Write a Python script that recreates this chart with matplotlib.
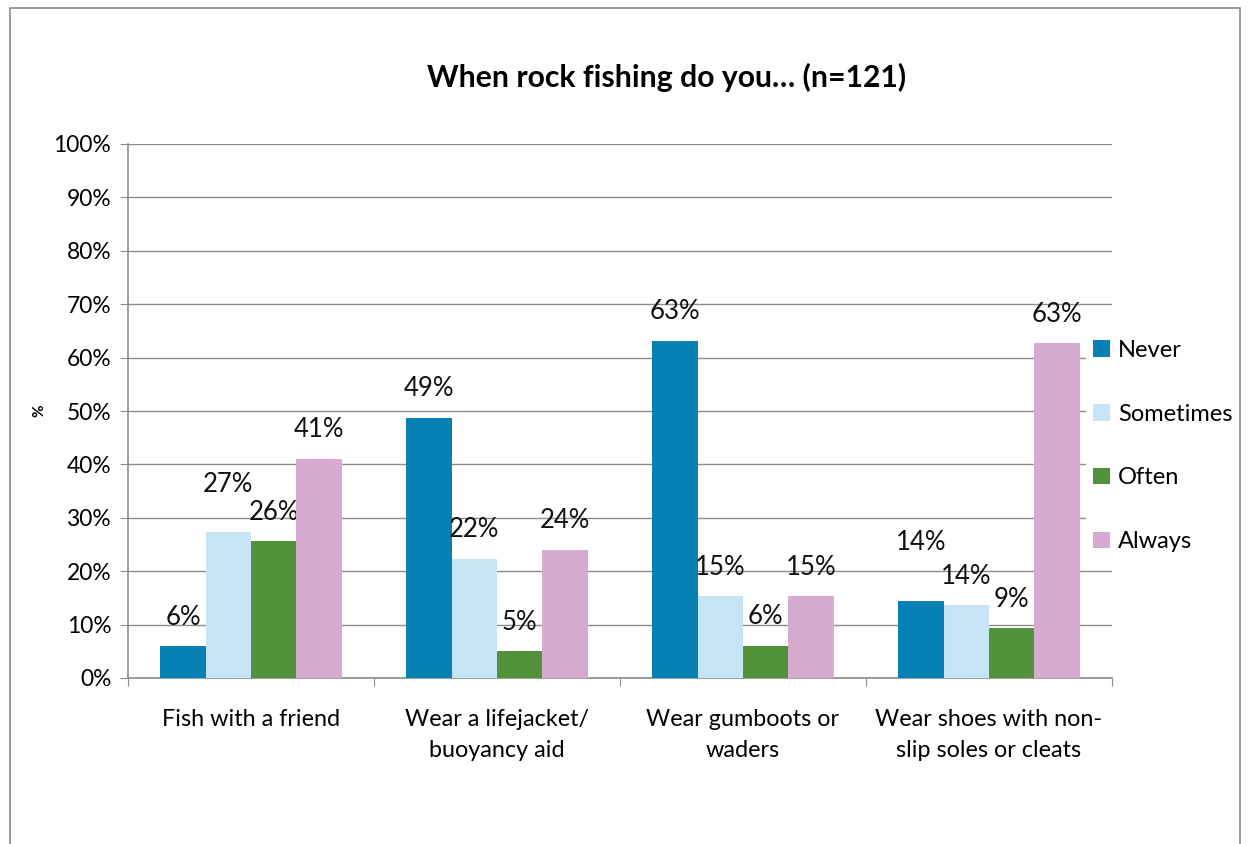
import matplotlib
matplotlib.use('Agg')
import matplotlib.pyplot as plt
import numpy as np
from matplotlib.patches import Rectangle

plt.rcParams['font.family'] = ['Lato', 'DejaVu Sans']

# Survey responses (% of respondents)
categories = ['Fish with a friend', 'Wear a lifejacket/\nbuoyancy aid',
              'Wear gumboots or\nwaders', 'Wear shoes with non-\nslip soles or cleats']
series = ['Never', 'Sometimes', 'Often', 'Always']
never = [5.9, 48.7, 63.2, 14.4]
sometimes = [27.3, 22.3, 15.3, 13.6]
often = [25.6, 5.0, 6.0, 9.3]
always = [41.0, 24.0, 15.3, 62.7]
values = [never, sometimes, often, always]

colors = ['#0780B6', '#C7E4F6', '#51923A', '#D6ABCF']

# extra lift (points) for labels that were moved up to avoid clashes
label_lift = {(1, 0): 13, (0, 3): 21}

fig = plt.figure(figsize=(12.48, 8.44), dpi=100)
ax = fig.add_axes([128 / 1248, 1 - 678 / 844, (1112 - 128) / 1248, (678 - 144) / 844])

# chart border
fig.patches.append(Rectangle((10 / 1248, -0.05), 1230 / 1248, 1.05 - 8 / 844,
                             transform=fig.transFigure, fill=False,
                             edgecolor='#8A8A8A', linewidth=1.2))

x = np.arange(len(categories))
width = 0.184
grey = '#8C8C8C'

for i, (name, vals, col) in enumerate(zip(series, values, colors)):
    pos = x + (i - 1.5) * width
    bars = ax.bar(pos, vals, width, color=col, label=name, zorder=3)
    for j, (b, v) in enumerate(zip(bars, vals)):
        ax.annotate(f'{v:.0f}%', (b.get_x() + b.get_width() / 2, v),
                    xytext=(0, 12 + label_lift.get((i, j), 0)),
                    textcoords='offset points', ha='center', va='bottom',
                    fontsize=18.5, color='#111111')

ax.set_ylim(0, 100)
ax.set_xlim(-0.5, 3.5)
ax.set_yticks(np.arange(0, 101, 10))
ax.set_yticklabels([f'{t}%' for t in range(0, 101, 10)])
ax.yaxis.grid(True, color=grey, linewidth=1, zorder=0)
ax.set_axisbelow(True)

ax.set_xticks(np.arange(-0.5, 4, 1))
ax.set_xticklabels([])
ax.set_xticks(x, minor=True)
ax.set_xticklabels(categories, minor=True, fontsize=16.8, linespacing=1.6)
ax.tick_params(axis='x', which='minor', length=0, pad=22)
ax.tick_params(axis='x', which='major', length=6, color=grey, direction='out')
ax.tick_params(axis='y', length=6, color=grey, labelsize=16.4, pad=6)

for s in ['top', 'right']:
    ax.spines[s].set_visible(False)
for s in ['left', 'bottom']:
    ax.spines[s].set_color(grey)
    ax.spines[s].set_linewidth(1.2)

ax.set_ylabel('%', fontsize=11, fontweight='bold', labelpad=5)

fig.text(667 / 1248, 1 - 77 / 844, 'When rock fishing do you\u2026 (n=121)',
         ha='center', va='center', fontsize=21.7, fontweight='bold')

leg = ax.legend(loc='center left', bbox_to_anchor=(1086 / 1248, 1 - 446 / 844),
                bbox_transform=fig.transFigure, frameon=True, fancybox=False,
                edgecolor='none', facecolor='white', framealpha=1,
                fontsize=17, handlelength=0.7, handleheight=0.7,
                handletextpad=0.35, labelspacing=1.82, borderpad=0.3,
                borderaxespad=0)

plt.savefig('out.png', dpi=100)
